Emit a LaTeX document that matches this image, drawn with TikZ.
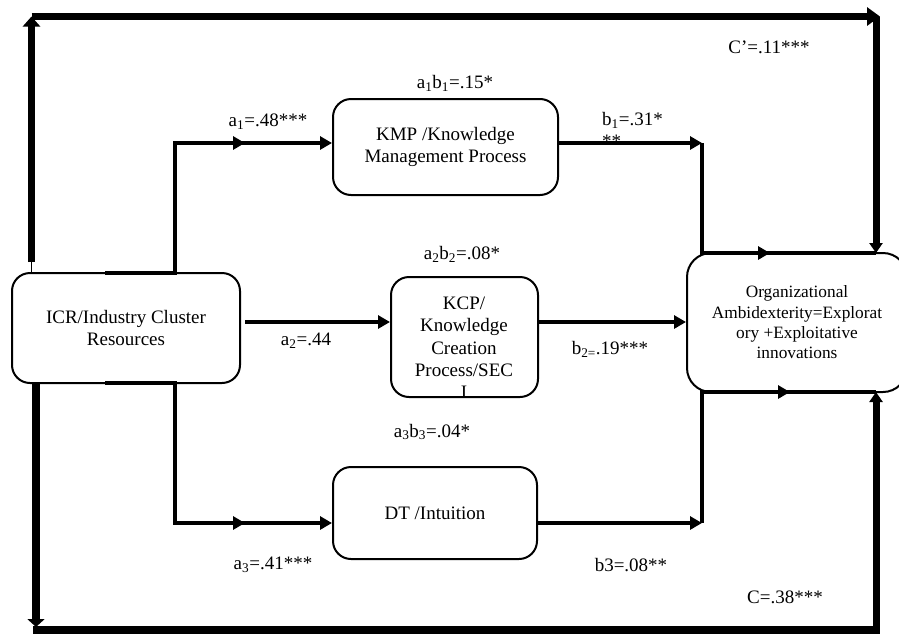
\documentclass[tikz,border=0pt]{standalone}
\usepackage{fontspec}
\setmainfont{Liberation Serif}
\usetikzlibrary{arrows.meta,decorations.markings}
\begin{document}
\begin{tikzpicture}[x=1pt,y=-1pt,
  every node/.style={font=\fontsize{19}{22}\selectfont},
  box/.style={draw, line width=2pt, rounded corners=18pt, inner sep=0pt, align=center},
  tag/.style={inner sep=0pt, align=center},
  route/.style={line width=3.5pt},
  link/.style={route, -{Triangle[length=12pt,width=13pt]}},
  heavy/.style={line width=7pt},
  midtip/.style={postaction={decorate}, decoration={markings,
      mark=at position #1 with {\arrow{Triangle[length=12pt,width=13pt]}}}}
]
\useasboundingbox (0,0) rectangle (899,635);
\clip (0,0) rectangle (899,635);

% constructs
\node[box, minimum width=228pt, minimum height=110pt] (icr) at (126,328)
  {ICR/Industry Cluster\\Resources};
\node[box, minimum width=225pt, minimum height=96pt] (kmp) at (445.5,147)
  {KMP /Knowledge\\Management Process};
\node[box, minimum width=147pt, minimum height=120pt] (kcp) at (464.5,337) {};
\node[tag, anchor=north, font=\fontsize{19}{22.2}\selectfont] (kcptext) at (464,297)
  {KCP/\\Knowledge\\Creation\\Process/SEC\\I};
\node[box, minimum width=204pt, minimum height=92pt] (dt) at (435,513) {DT /Intuition};
\node[box, minimum width=220pt, minimum height=139pt, rounded corners=24pt,
      font=\fontsize{17.3}{20.3}\selectfont] (oa) at (797,322.5)
  {Organizational\\Ambidexterity=Explorat\\ory +Exploitative\\innovations};

% junction points
\coordinate (a1foot) at (105,273);
\coordinate (a1bend) at (175,143);
\coordinate (a3foot) at (105,383);
\coordinate (a3bend) at (175,523);
\coordinate (a2start) at (245,322);
\coordinate (kmpturn) at (702,143);
\coordinate (dtturn) at (702,523);
\coordinate (oatr) at (876,253);
\coordinate (oabr) at (876,392);
\coordinate (upfoot) at (31.5,262);
\coordinate (tl) at (31.5,16.5);
\coordinate (tr) at (880,16.5);
\coordinate (downtip) at (36,627);
\coordinate (bl) at (33,630);
\coordinate (br) at (880,630);

% mediated paths
\draw[link, midtip=270pt] (a1foot) -| (a1bend) -- (a1bend -| kmp.west);
\draw[link] (a2start) -- (a2start -| kcp.west);
\draw[link, midtip=280pt] (a3foot) -| (a3bend) -- (a3bend -| dt.west);
\draw[link] (kmpturn -| kmp.east) -- (kmpturn);
\draw[route, midtip=178pt] (kmpturn) |- (oatr);
\draw[link] (a2start -| kcp.east) -- (a2start -| oa.west);
\draw[link] (dtturn -| dt.east) -- (dtturn);
\draw[route, midtip=219pt] (dtturn) |- (oabr);

% direct effect (outer frame)
\draw[line width=1pt] (upfoot) -- (upfoot |- icr.north);
\draw[heavy, -{Triangle[length=10pt,width=17pt]}] (upfoot) -- (tl);
\draw[heavy, -{Triangle[length=13pt,width=18pt]}] (tl) -- (tr);
\draw[heavy, -{Triangle[length=10pt,width=13pt]}] (oatr |- tl) -- (oatr);
\draw[heavy, line width=8pt, -{Triangle[length=8pt,width=17pt]}] (downtip |- icr.south) -- (downtip);
\draw[heavy, line width=8pt] (bl) -- (br);
\draw[heavy, -{Triangle[length=10pt,width=13pt]}] (oabr |- bl) -- (oabr);

% coefficients
\node[tag] (la1b1) at (455,83) {a\textsubscript{1}b\textsubscript{1}=.15*};
\node[tag] (la1) at (268,122) {a\textsubscript{1}=.48***};
\node[tag, anchor=north west, align=left] (lb1) at (602,112) {b\textsubscript{1}=.31*\\**};
\node[tag] (lcp) at (769,47) {C’=.11***};
\node[tag] (la2b2) at (462,254) {a\textsubscript{2}b\textsubscript{2}=.08*};
\node[tag] (la2) at (306,341) {a\textsubscript{2}=.44};
\node[tag] (lb2) at (610,349) {b\textsubscript{2=}.19***};
\node[tag] (la3b3) at (432,432) {a\textsubscript{3}b\textsubscript{3}=.04*};
\node[tag] (la3) at (273,565) {a\textsubscript{3}=.41***};
\node[tag] (lb3) at (631,565) {b3=.08**};
\node[tag] (lc) at (785,597) {C=.38***};
\end{tikzpicture}
\end{document}
